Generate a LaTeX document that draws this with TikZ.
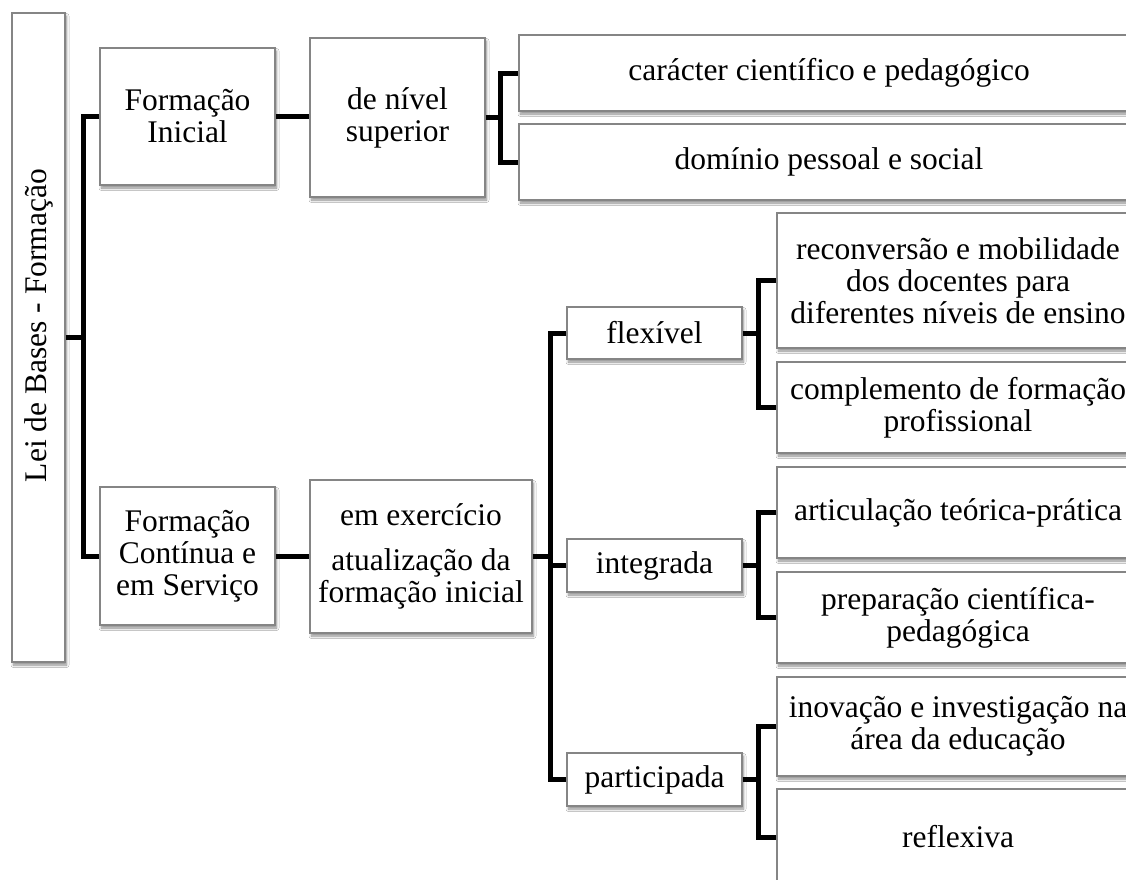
\documentclass[tikz,border=0pt]{standalone}
\usepackage{fontspec}
\setmainfont{Liberation Serif}
\usetikzlibrary{shadows.blur}
\tikzset{
  bx/.style={draw=black!48, line width=1.1pt, fill=white, inner sep=0pt,
    align=center, font=\fontsize{31.5}{32}\selectfont,
    blur shadow={shadow xshift=1.5pt, shadow yshift=-3pt, shadow blur steps=6,
      shadow blur radius=2.5pt, shadow opacity=45}},
  link/.style={line width=5pt, black}
}
\begin{document}
\begin{tikzpicture}[x=1pt, y=-1pt]
\useasboundingbox (0,0) rectangle (1126,879);
\fill[white] (0,0) rectangle (1126,879);
\clip (0,0) rectangle (1126,879);

% root
\node[bx, minimum width=53pt, minimum height=649pt] (root) at (38.5,337.5)
  {\rotatebox{90}{\hspace{24pt}Lei de Bases - Formação}};

% initial training branch
\node[bx, minimum width=175pt, minimum height=137pt] (fi) at (187.5,116.5) {Formação\\Inicial};
\node[bx, minimum width=175pt, minimum height=159pt] (ns) at (397.5,117.5) {de nível\\superior};
\node[bx, minimum width=620pt, minimum height=76pt] (cc) at (829,73) {carácter científico e pedagógico};
\node[bx, minimum width=620pt, minimum height=76pt] (dp) at (829,162) {domínio pessoal e social};

% continuing training branch
\node[bx, minimum width=175pt, minimum height=138pt] (fc) at (187.5,556) {Formação\\Contínua e\\em Serviço};
\node[bx, minimum width=222pt, minimum height=153pt] (ee) at (421,556.5)
  {em exercício\\[13pt]atualização da\\formação inicial};
\node[bx, minimum width=175pt, minimum height=52pt] (fx) at (654.5,333) {flexível};
\node[bx, minimum width=175pt, minimum height=53pt] (ig) at (654.5,565.5) {integrada};
\node[bx, minimum width=175pt, minimum height=53pt] (pa) at (654.5,779.5) {participada};

\node[bx, minimum width=362pt, minimum height=135pt] (rc) at (958,280.5)
  {reconversão e mobilidade\\dos docentes para\\diferentes níveis de ensino};
\node[bx, minimum width=362pt, minimum height=91pt] (cp) at (958,407.5) {complemento de formação\\profissional};
\node[bx, minimum width=362pt, minimum height=91pt] (ar) at (958,512.5) {articulação teórica-prática};
\node[bx, minimum width=362pt, minimum height=91pt] (pp) at (958,617.5) {preparação científica-\\pedagógica};
\node[bx, minimum width=362pt, minimum height=99pt] (iv) at (958,726.5) {inovação e investigação na\\área da educação};
\node[bx, minimum width=362pt, minimum height=96pt] (rf) at (958,837) {reflexiva};

% junction points
\coordinate (j0) at (83,337.5);
\coordinate (j1) at (500,117.5);
\coordinate (j2) at (550,556.5);
\coordinate (j3) at (758,333);
\coordinate (j4) at (758,565.5);
\coordinate (j5) at (758,779.5);

% connectors
\draw[link] (root.east) -- (j0);
\draw[link] (fi.west) -| (j0) |- (fc.west);
\draw[link] (fi.east) -- (fi.east -| ns.west);
\draw[link] (ns.east) -- (j1);
\draw[link] (cc.west) -| (j1) |- (dp.west);

\draw[link] (fc.east) -- (fc.east -| ee.west);
\draw[link] (ee.east) -- (j2);
\draw[link] (fx.west) -| (j2) |- (pa.west);
\draw[link] (ig.west) -- (ig.west -| j2);

\draw[link] (fx.east) -- (j3);
\draw[link] (rc.west) -| (j3) |- (cp.west);
\draw[link] (ig.east) -- (j4);
\draw[link] (ar.west) -| (j4) |- (pp.west);
\draw[link] (pa.east) -- (j5);
\draw[link] (iv.west) -| (j5) |- (rf.west);
\end{tikzpicture}
\end{document}
